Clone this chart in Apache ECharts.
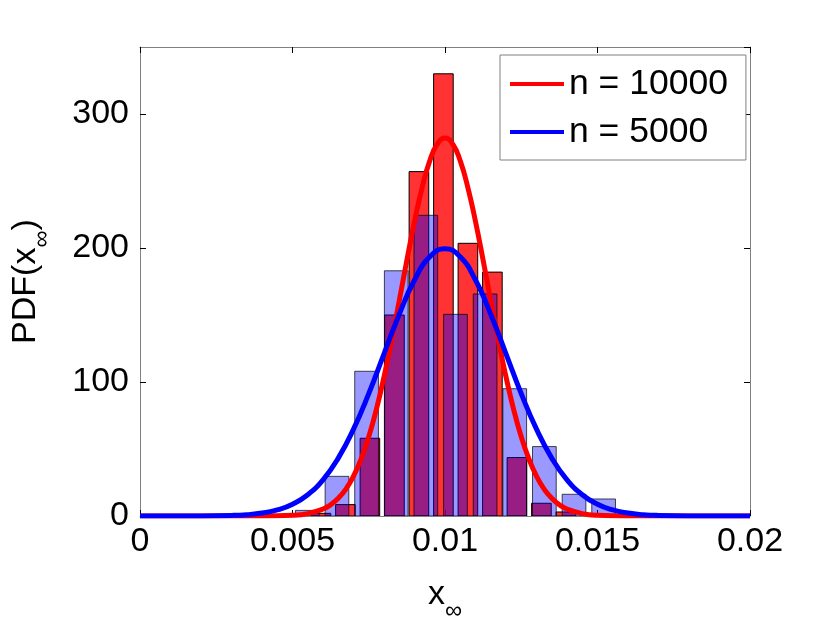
<!DOCTYPE html>
<html><head><meta charset="utf-8">
<script src="https://cdn.jsdelivr.net/npm/echarts@6/dist/echarts.min.js"></script>
<style>html,body{margin:0;padding:0;background:#fff}#c{width:830px;height:626px}</style>
</head><body><div id="c"></div>
<script>
// ---- data ----
const xTicks = [0, 0.005, 0.01, 0.015, 0.02];
const yTicks = [0, 100, 200, 300];
const yMax = 350;

// histogram, n = 10000 (bin centres and heights)
const redBinCenters = [0.005932, 0.006735, 0.007538, 0.008342, 0.009145, 0.009948, 0.010751, 0.011554, 0.012358, 0.013161, 0.013964, 0.014767];
const redHeights    = [2, 8.5, 58, 150, 257, 330, 203.5, 182, 43.6, 9.5, 3, 0.8];

// histogram, n = 5000
const blueBinCenters = [0.005486, 0.006458, 0.007429, 0.008401, 0.009372, 0.010344, 0.011315, 0.012287, 0.013258, 0.014230, 0.015201];
const blueHeights    = [4.2, 29.6, 108, 183, 224.4, 150.5, 165.7, 95, 51.8, 16.2, 12.7];

// fitted curves, points
const redCurveX = [0, 0.002, 0.004, 0.005, 0.0055, 0.006, 0.00625, 0.0065, 0.00675, 0.007, 0.00725, 0.0075, 0.00775, 0.008, 0.00825, 0.0085, 0.00875, 0.009, 0.00925, 0.0095, 0.00975, 0.01,
  0.01025, 0.0105, 0.01075, 0.011, 0.01125, 0.0115, 0.01175, 0.012, 0.01225, 0.0125, 0.01275, 0.013, 0.01325, 0.0135, 0.01375, 0.014, 0.0145, 0.015, 0.016, 0.018, 0.02];
const redCurveY = [0, 0, 0.03, 0.5, 1.8, 5.2, 8.4, 13.2, 20.1, 29.7, 42.6, 59.1, 79.6, 103.8, 131.2, 160.7, 190.9, 219.7, 245.1, 265.0, 277.7, 282.1,
  277.7, 265.0, 245.1, 219.7, 190.9, 160.7, 131.2, 103.8, 79.6, 59.1, 42.6, 29.7, 20.1, 13.2, 8.4, 5.2, 1.8, 0.5, 0.03, 0, 0];

const blueCurveX = [0, 0.001, 0.002, 0.003, 0.0035, 0.004, 0.0045, 0.005, 0.0055, 0.006, 0.0065, 0.007, 0.0075, 0.008, 0.0085, 0.009, 0.0095, 0.01,
  0.0105, 0.011, 0.0115, 0.012, 0.0125, 0.013, 0.0135, 0.014, 0.0145, 0.015, 0.0155, 0.016, 0.0165, 0.017, 0.018, 0.019, 0.02];
const blueCurveY = [0, 0.01, 0.07, 0.44, 1.0, 2.2, 4.5, 8.8, 15.9, 27.0, 43.2, 64.8, 91.3, 121.0, 150.6, 176.1, 193.4, 199.5,
  193.4, 176.1, 150.6, 121.0, 91.3, 64.8, 43.2, 27.0, 15.9, 8.8, 4.5, 2.2, 1.0, 0.44, 0.07, 0.01, 0];

const seriesNames = ['n = 10000', 'n = 5000'];
// ------------------------------------

const FONT = "'Liberation Sans', Arial, Helvetica, sans-serif";
const zip = (a, b) => a.map((v, i) => [v, b[i]]);
const spacing = c => (c[c.length - 1] - c[0]) / (c.length - 1);

function barRenderer(fill, stroke, halfWidth) {
  return function (params, api) {
    const c = api.value(0), h = api.value(1);
    const p0 = api.coord([c - halfWidth, h]);
    const p1 = api.coord([c + halfWidth, 0]);
    return {
      type: 'rect',
      shape: { x: p0[0], y: p0[1], width: p1[0] - p0[0], height: p1[1] - p0[1] },
      style: { fill: fill, stroke: stroke, lineWidth: 1 }
    };
  };
}

const richTitle = {
  a: { fontSize: 34, lineHeight: 40, fontFamily: FONT, color: '#000' },
  s: { fontSize: 24, lineHeight: 40, fontFamily: FONT, color: '#000', padding: [32, 0, 0, 0] }
};

const axisLineStyle = { show: true, onZero: false, lineStyle: { color: '#808080', width: 1 } };
const tickStyle = { show: true, inside: true, length: 6, lineStyle: { color: '#000', width: 1 } };
const yLabelFmt = v => (yTicks.indexOf(v) >= 0 ? String(v) : '');

const chart = echarts.init(document.getElementById('c'));
chart.setOption({
  animation: false,
  backgroundColor: '#fff',
  grid: { left: 140, right: 80, top: 47, bottom: 110, containLabel: false, outerBoundsMode: 'none' },
  legend: {
    data: seriesNames,
    orient: 'vertical',
    left: 500, top: 55,
    icon: 'rect',
    itemWidth: 54, itemHeight: 4, itemGap: 8,
    padding: [9, 18, 8, 10],
    borderColor: '#808080', borderWidth: 1, backgroundColor: '#fff',
    textStyle: { fontSize: 35.5, lineHeight: 40, fontFamily: FONT, color: '#000' }
  },
  xAxis: [{
    type: 'value', position: 'bottom',
    min: xTicks[0], max: xTicks[xTicks.length - 1], interval: xTicks[1] - xTicks[0],
    axisLine: axisLineStyle, axisTick: tickStyle, splitLine: { show: false },
    axisLabel: { fontSize: 34, fontFamily: FONT, color: '#000', margin: 9,
      formatter: v => String(+v.toFixed(3)) },
    name: '{a|x}{s|∞}', nameLocation: 'middle', nameGap: 59,
    nameTextStyle: { rich: richTitle }
  }, {
    type: 'value', position: 'top',
    min: xTicks[0], max: xTicks[xTicks.length - 1], interval: xTicks[1] - xTicks[0],
    axisLine: axisLineStyle, axisTick: tickStyle, splitLine: { show: false },
    axisLabel: { show: false }
  }],
  yAxis: [{
    type: 'value', position: 'left',
    min: 0, max: yMax, interval: yTicks[1] - yTicks[0],
    axisLine: axisLineStyle, axisTick: tickStyle, splitLine: { show: false },
    axisLabel: { fontSize: 34, fontFamily: FONT, color: '#000', margin: 11, showMaxLabel: false, formatter: yLabelFmt },
    name: '{a|PDF(x}{s|∞}{a|)}', nameLocation: 'middle', nameRotate: 90, nameGap: 94,
    nameTextStyle: { rich: richTitle }
  }, {
    type: 'value', position: 'right',
    min: 0, max: yMax, interval: yTicks[1] - yTicks[0],
    axisLine: axisLineStyle, axisTick: tickStyle, splitLine: { show: false },
    axisLabel: { show: false }
  }],
  series: [{
    name: 'hist10000', type: 'custom', clip: true,
    renderItem: barRenderer('rgba(255,0,0,0.8)', '#000', 0.4 * spacing(redBinCenters)),
    data: zip(redBinCenters, redHeights), encode: { x: 0, y: 1 }
  }, {
    name: 'hist5000', type: 'custom', clip: true,
    renderItem: barRenderer('rgba(0,0,255,0.4)', 'rgba(0,0,0,0.7)', 0.4 * spacing(blueBinCenters)),
    data: zip(blueBinCenters, blueHeights), encode: { x: 0, y: 1 }
  }, {
    name: seriesNames[0], type: 'line', showSymbol: false, symbol: 'none', smooth: true, clip: true,
    color: '#ff0000', lineStyle: { color: '#ff0000', width: 5 },
    data: zip(redCurveX, redCurveY)
  }, {
    name: seriesNames[1], type: 'line', showSymbol: false, symbol: 'none', smooth: true, clip: true,
    color: '#0000ff', lineStyle: { color: '#0000ff', width: 5 },
    data: zip(blueCurveX, blueCurveY)
  }]
});
</script>
</body></html>
